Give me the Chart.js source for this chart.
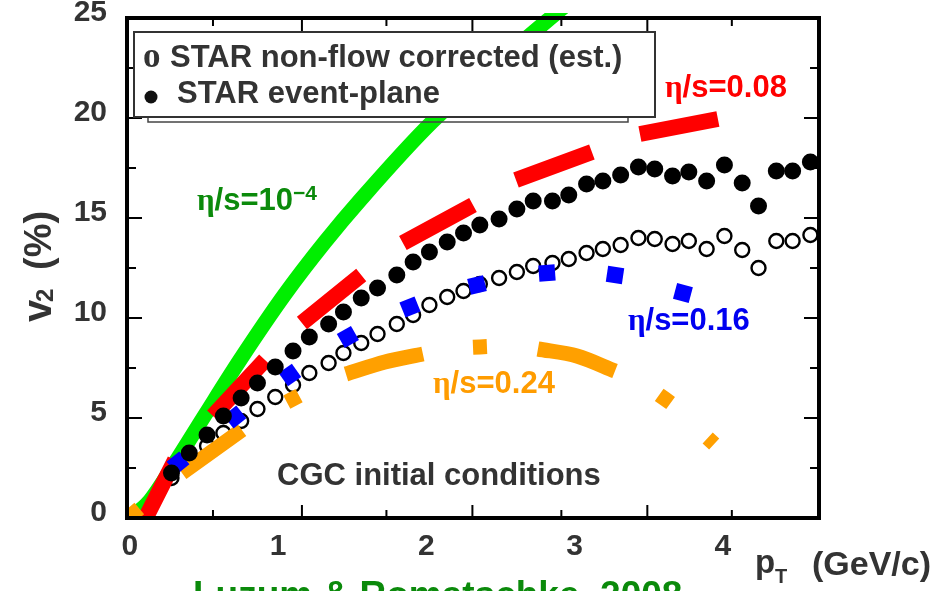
<!DOCTYPE html>
<html>
<head>
<meta charset="utf-8">
<script src="https://cdn.jsdelivr.net/npm/chart.js@4.4.1/dist/chart.umd.min.js"></script>
<style>
  html, body { margin: 0; padding: 0; background: #fff; }
  canvas { display: block; }
</style>
</head>
<body>
<canvas id="v2-chart" width="951" height="591"></canvas>
<script>
// axis labels and tick marks
const xTickLabels = [0, 1, 2, 3, 4];
const yTickLabels = [0, 5, 10, 15, 20, 25];
const xMarksMajor = [1.16, 2.31, 3.49];
const xMarksMinor = [0.56, 1.73, 2.91, 4.06];
const yMarksMajor = [5, 10, 15, 20];
const yMarksMinor = [2.5, 7.5, 12.5, 17.5, 22.5];

// STAR data, pT in GeV/c, v2 in %
const pT = [0.28, 0.40, 0.52, 0.63, 0.75, 0.86, 0.98, 1.10, 1.21, 1.34, 1.44, 1.56, 1.67,
  1.80, 1.91, 2.02, 2.14, 2.25, 2.36, 2.49, 2.61, 2.72, 2.85, 2.96, 3.08, 3.19, 3.31,
  3.43, 3.54, 3.66, 3.77, 3.89, 4.01, 4.13, 4.24, 4.36, 4.47, 4.59];
const v2EventPlane = [2.25, 3.25, 4.15, 5.10, 6.00, 6.75, 7.55, 8.35, 9.05, 9.70, 10.30, 11.00, 11.50,
  12.15, 12.80, 13.30, 13.80, 14.25, 14.65, 14.95, 15.45, 15.85, 15.85, 16.15, 16.70, 16.85, 17.15,
  17.55, 17.45, 17.10, 17.30, 16.85, 17.65, 16.75, 15.60, 17.35, 17.35, 17.80];
const v2NonFlowCorr = [2.00, 2.85, 3.60, 4.25, 4.85, 5.45, 6.05, 6.65, 7.25, 7.75, 8.25, 8.75, 9.20,
  9.70, 10.15, 10.65, 11.05, 11.35, 11.70, 12.00, 12.30, 12.60, 12.75, 12.95, 13.25, 13.45, 13.65,
  14.00, 13.95, 13.70, 13.85, 13.45, 14.10, 13.40, 12.50, 13.85, 13.85, 14.15];

// viscous hydro curves [pT, v2]
const etaS1e4 = [[0, 0], [0.121, 0.75], [0.324, 3.0], [0.506, 5.15], [0.742, 7.9], [1.046, 11.2],
  [1.315, 13.8], [1.565, 16.0], [2.037, 19.8], [2.82, 24.9], [3.17, 27.0]];
// dashed curves, one entry per visible dash
const etaS008 = [
  [[0.061, -0.65], [0.304, 2.90]],
  [[0.560, 5.10], [0.911, 7.90]],
  [[1.160, 9.75], [1.560, 12.15]],
  [[1.841, 13.75], [2.314, 15.65]],
  [[2.604, 16.90], [3.116, 18.30]],
  [[3.440, 19.20], [3.966, 19.95]]
];
const etaS016 = [[0.324, 2.75], [0.708, 5.05], [1.079, 7.15], [1.470, 9.05], [1.889, 10.55],
  [2.341, 11.65], [2.813, 12.25], [3.272, 12.15], [3.730, 11.25]];
const etaS024 = [
  [[-0.009, 0.03], [0.063, 0.48]],
  [[0.351, 2.25], [0.755, 4.40]],
  [[1.058, 5.79], [1.141, 6.12]],
  [[1.457, 7.20], [1.720, 7.80], [1.976, 8.20]],
  [[2.314, 8.54], [2.408, 8.57]],
  [[2.752, 8.45], [3.015, 8.10], [3.272, 7.35]],
  [[3.570, 6.16], [3.647, 5.75]],
  [[3.897, 4.00], [3.941, 3.70]]
];

const SANS = "'Liberation Sans', Arial, sans-serif";
const SERIF = "'Liberation Serif', 'Times New Roman', serif";
const TEXT = '#333';

const toPts = arr => arr.map(([x, y]) => ({ x, y }));
const dashes = pieces => pieces.flatMap((p, i) =>
  (i ? [{ x: p[0][0], y: null }] : []).concat(toPts(p)));

function drawRuns(ctx, x, y, runs, color) {
  ctx.fillStyle = color;
  ctx.textAlign = 'left';
  ctx.textBaseline = 'alphabetic';
  for (const r of runs) {
    ctx.font = r.font;
    const rx = r.at !== undefined ? r.at : x;
    ctx.fillText(r.text, rx, y + (r.dy || 0));
    x = rx + ctx.measureText(r.text).width;
  }
}

const eta = text => [
  { text: 'η', font: 'bold 31px ' + SERIF },
  { text: text, font: 'bold 31px ' + SANS }
];

const notes = [
  { x: 0.452, y: 15.4, color: '#0b8a0b',
    runs: eta('/s=10').concat([{ text: '−4', font: 'bold 21px ' + SANS, dy: -10 }]) },
  { x: 3.609, y: 21.05, color: '#ff0000', runs: eta('/s=0.08') },
  { x: 3.359, y: 9.4, color: '#0000f0', runs: eta('/s=0.16') },
  { x: 2.044, y: 6.25, color: '#ff9c00', runs: eta('/s=0.24') },
  { x: 0.992, y: 1.65, color: TEXT, runs: [{ text: 'CGC initial conditions', font: 'bold 31px ' + SANS }] }
];

const decorations = {
  id: 'decorations',
  afterDatasetsDraw(chart) {
    const { ctx, chartArea: a, scales: { x, y } } = chart;
    ctx.save();
    ctx.strokeStyle = '#000';
    ctx.lineWidth = 2;
    ctx.beginPath();
    const xMark = (v, len) => {
      const px = x.getPixelForValue(v);
      ctx.moveTo(px, a.bottom); ctx.lineTo(px, a.bottom - len);
      ctx.moveTo(px, a.top); ctx.lineTo(px, a.top + len);
    };
    const yMark = (v, len) => {
      const py = y.getPixelForValue(v);
      ctx.moveTo(a.left, py); ctx.lineTo(a.left + len, py);
      ctx.moveTo(a.right, py); ctx.lineTo(a.right - len, py);
    };
    xMarksMajor.forEach(v => xMark(v, 13));
    xMarksMinor.forEach(v => xMark(v, 8));
    yMarksMajor.forEach(v => yMark(v, 15));
    yMarksMinor.forEach(v => yMark(v, 9));
    ctx.stroke();
    ctx.lineWidth = 4;
    ctx.strokeRect(a.left, a.top, a.width, a.height);

    // legend box with its shadow
    ctx.lineWidth = 1.5;
    ctx.strokeStyle = '#444';
    ctx.strokeRect(148, 40, 480, 82);
    ctx.fillStyle = '#fff';
    ctx.fillRect(134, 32, 521, 85);
    ctx.lineWidth = 2;
    ctx.strokeStyle = '#333';
    ctx.strokeRect(134, 32, 521, 85);
    drawRuns(ctx, 143, 67, [{ text: 'o', font: 'bold 35px ' + SERIF }], TEXT);
    drawRuns(ctx, 170, 67, [{ text: 'STAR non-flow corrected (est.)', font: 'bold 31px ' + SANS }], TEXT);
    ctx.fillStyle = '#111';
    ctx.beginPath();
    ctx.arc(151, 97, 6.5, 0, Math.PI * 2);
    ctx.fill();
    drawRuns(ctx, 177, 103, [{ text: 'STAR event-plane', font: 'bold 31px ' + SANS }], TEXT);

    // curve labels
    notes.forEach(n => drawRuns(ctx, x.getPixelForValue(n.x), y.getPixelForValue(n.y), n.runs, n.color));

    // axis titles
    drawRuns(ctx, 755, 573, [
      { text: 'p', font: 'bold 33px ' + SANS },
      { text: 'T', font: 'bold 20px ' + SANS, at: 775, dy: 10 },
      { text: '(GeV/c)', font: 'bold 34px ' + SANS, at: 812, dy: 2 }
    ], TEXT);
    ctx.save();
    ctx.translate(51, 322);
    ctx.rotate(-Math.PI / 2);
    drawRuns(ctx, 0, 0, [
      { text: 'v', font: 'bold 40px ' + SANS },
      { text: '2', font: 'bold 24px ' + SANS, at: 20, dy: 2 },
      { text: '(%)', font: 'bold 38px ' + SANS, at: 52 }
    ], TEXT);
    ctx.restore();

    drawRuns(ctx, 193, 607, [{ text: 'Luzum & Romatschke, 2008', font: 'bold 37px ' + SANS }], '#0b8a0b');
    ctx.restore();
  }
};

const blueRotation = ctx => {
  const d = ctx.dataset.data, i = ctx.dataIndex;
  const p = d[Math.max(i - 1, 0)], q = d[Math.min(i + 1, d.length - 1)];
  const { x, y } = ctx.chart.scales;
  const dx = x.getPixelForValue(q.x) - x.getPixelForValue(p.x);
  const dy = y.getPixelForValue(q.y) - y.getPixelForValue(p.y);
  return Math.atan2(dy, dx) * 180 / Math.PI;
};

const tickFont = { family: SANS, size: 30, weight: 'bold' };

new Chart(document.getElementById('v2-chart'), {
  type: 'line',
  data: {
    datasets: [
      {
        label: 'STAR event-plane',
        data: pT.map((x, i) => ({ x, y: v2EventPlane[i] })),
        showLine: false,
        pointStyle: 'circle',
        pointRadius: 8.5,
        pointBackgroundColor: '#000',
        pointBorderWidth: 0,
        clip: 0,
        order: 0
      },
      {
        label: 'η/s=0.16',
        data: toPts(etaS016),
        showLine: false,
        pointStyle: 'rect',
        pointRadius: 11.5,
        pointRotation: blueRotation,
        pointBackgroundColor: '#0000ff',
        pointBorderWidth: 0,
        clip: 0,
        order: 1
      },
      {
        label: 'η/s=0.24',
        data: dashes(etaS024),
        borderColor: '#ffa000',
        borderWidth: 15,
        borderCapStyle: 'butt',
        tension: 0.3,
        pointRadius: 0,
        clip: 0,
        order: 2
      },
      {
        label: 'η/s=0.08',
        data: dashes(etaS008),
        borderColor: '#ff0000',
        borderWidth: 16,
        borderCapStyle: 'butt',
        pointRadius: 0,
        clip: 0,
        order: 3
      },
      {
        label: 'STAR non-flow corrected (est.)',
        data: pT.map((x, i) => ({ x, y: v2NonFlowCorr[i] })),
        showLine: false,
        pointStyle: 'circle',
        pointRadius: 7,
        pointBackgroundColor: '#fff',
        pointBorderColor: '#000',
        pointBorderWidth: 2.4,
        clip: 0,
        order: 4
      },
      {
        label: 'η/s=10⁻⁴',
        data: toPts(etaS1e4),
        borderColor: '#00ee00',
        borderWidth: 15,
        cubicInterpolationMode: 'monotone',
        pointRadius: 0,
        clip: { left: 0, top: 5, right: 0, bottom: 0 },
        order: 5
      }
    ]
  },
  options: {
    responsive: false,
    animation: false,
    events: [],
    layout: { padding: { top: 18, right: 132, left: 0, bottom: 0 } },
    plugins: { legend: { display: false }, tooltip: { enabled: false } },
    scales: {
      x: {
        type: 'linear',
        min: -0.02,
        max: 4.648,
        afterBuildTicks: s => { s.ticks = xTickLabels.map(v => ({ value: v })); },
        afterFit: s => { s.height = 73; s.paddingLeft = 0; s.paddingRight = 0; },
        grid: { display: false, drawTicks: false },
        border: { display: false },
        ticks: { font: tickFont, color: TEXT, padding: 11, maxRotation: 0, autoSkip: false }
      },
      y: {
        type: 'linear',
        min: 0,
        max: 25,
        afterBuildTicks: s => { s.ticks = yTickLabels.map(v => ({ value: v })); },
        afterFit: s => { s.width = 127; s.paddingTop = 0; s.paddingBottom = 0; },
        grid: { display: false, drawTicks: false },
        border: { display: false },
        ticks: { font: tickFont, color: TEXT, padding: 20, labelOffset: -5, autoSkip: false }
      }
    }
  },
  plugins: [decorations]
});
</script>
</body>
</html>
